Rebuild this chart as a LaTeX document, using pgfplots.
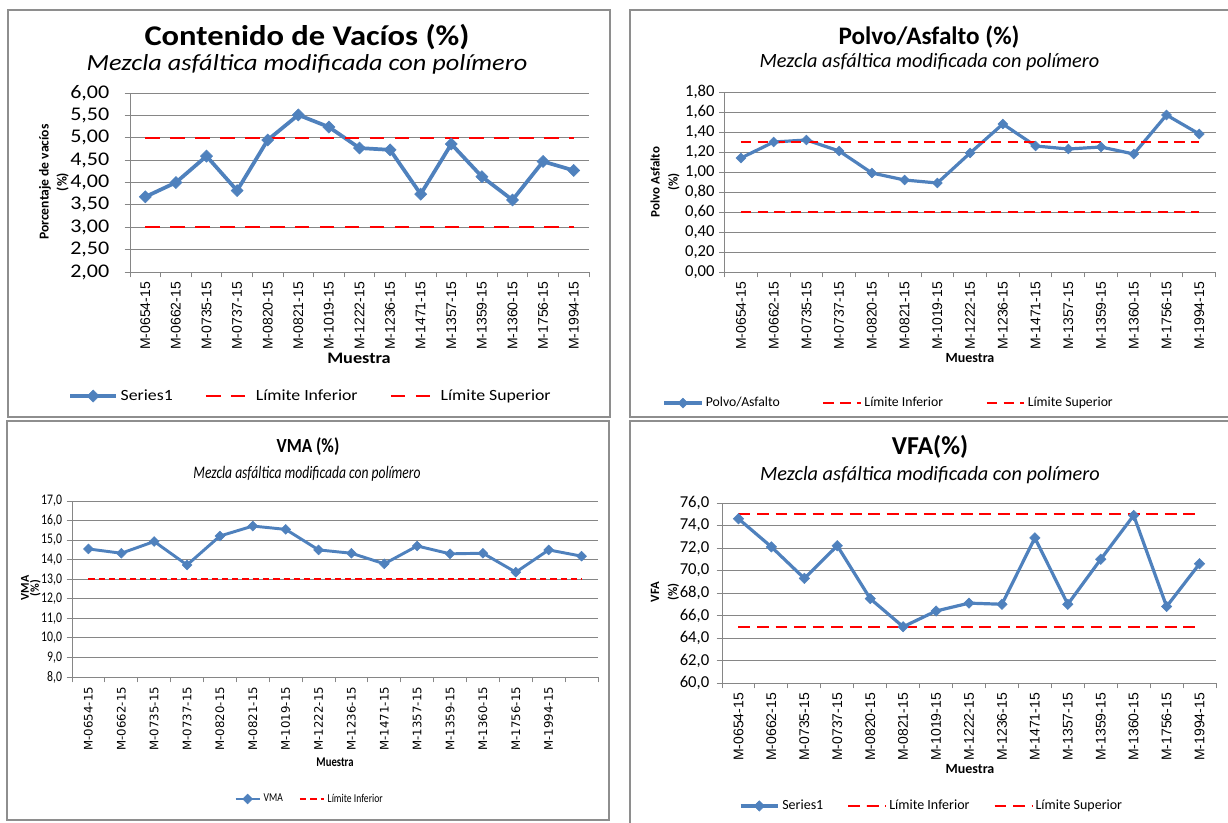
\documentclass[border=0pt]{standalone}
\usepackage{pgfplots}
\pgfplotsset{compat=1.18}
\usepackage{pgfplotstable}
\usepackage{graphicx}
\usepackage{fontspec}
\setmainfont{Carlito}
\newfontfamily\dejavu{DejaVu Sans}
\newfontfamily\arial{Liberation Sans}

\definecolor{azul}{HTML}{4F81BD}
\definecolor{rejilla}{HTML}{868686}
\definecolor{marco}{HTML}{8E8E8E}
\newcommand{\fs}[1]{\fontsize{#1}{#1}\selectfont}
\newcommand{\ancho}[1]{\scalebox{1.14}[1]{#1}}
\newcommand{\estrecho}[1]{\scalebox{0.8}[1]{#1}}

% Contenido de vacios (%)
\pgfplotstableread{
n v
1 3.68
2 4.00
3 4.59
4 3.82
5 4.95
6 5.51
7 5.24
8 4.77
9 4.73
10 3.74
11 4.86
12 4.13
13 3.61
14 4.47
15 4.27
}\vacios

% Polvo/Asfalto
\pgfplotstableread{
n v
1 1.14
2 1.30
3 1.32
4 1.21
5 0.99
6 0.92
7 0.89
8 1.19
9 1.48
10 1.26
11 1.23
12 1.25
13 1.18
14 1.57
15 1.38
}\polvo

% VMA (16 puntos, el ultimo sin etiqueta)
\pgfplotstableread{
n v
1 14.55
2 14.33
3 14.93
4 13.73
5 15.21
6 15.72
7 15.55
8 14.50
9 14.33
10 13.79
11 14.70
12 14.30
13 14.33
14 13.36
15 14.50
16 14.18
}\vma

% VFA
\pgfplotstableread{
n v
1 74.6
2 72.1
3 69.3
4 72.2
5 67.5
6 65.0
7 66.4
8 67.1
9 67.0
10 72.9
11 67.0
12 71.0
13 74.9
14 66.8
15 70.6
}\vfa

\pgfplotsset{
  hoja/.style={
    scale only axis, anchor=south west,
    axis lines*=left,
    axis line style={rejilla, line width=0.75pt},
    ymajorgrids, grid style={rejilla, line width=0.75pt},
    tick align=outside,
    every tick/.style={rejilla, line width=0.75pt},
    major tick length=4pt, minor tick length=4pt,
    every major x tick/.style={draw opacity=0},
    xmin=0.5, xmax=15.5,
    xtick={1,...,15}, minor xtick={0.5,1.5,...,15.5},
    xticklabels={M-0654-15,M-0662-15,M-0735-15,M-0737-15,M-0820-15,M-0821-15,M-1019-15,M-1222-15,M-1236-15,M-1471-15,M-1357-15,M-1359-15,M-1360-15,M-1756-15,M-1994-15},
    xticklabel style={rotate=90, anchor=east},
    clip=false,
    legend cell align=left,
    legend style={draw=none, fill=none, legend columns=3, anchor=center},
  },
  imagen/.style={legend image code/.code={\draw[mark repeat=2,mark phase=2,##1] plot coordinates {(0pt,0pt) (#1/2,0pt) (#1,0pt)};}},
  linea/.style={azul, line width=#1, mark=square*, mark options={rotate=45, solid, line width=0.4pt}},
  limite/.style={red, dash pattern=#1},
}

\begin{document}
\begin{tikzpicture}
\begin{scope}[x=0.75pt, y=-0.75pt]
\useasboundingbox (0,0) rectangle (1228,822);
% marcos
\draw[marco, line width=1pt] (8,10) rectangle (610,417);
\draw[marco, line width=1pt] (630,10) rectangle (1232,417);
\draw[marco, line width=1pt] (7,421) rectangle (609,820);
\draw[marco, line width=1pt] (630,421) rectangle (1232,830);
% textos panel 1
\node[font=\bfseries\fs{21.4}] at (307,37.5) {\ancho{Contenido de Vacíos (\%)}};
\node[font=\itshape\fs{17.3}] at (307,64) {\ancho{Mezcla asfáltica modificada con polímero}};
\node[font=\bfseries\fontsize{10.2}{13.5}\selectfont, rotate=90, align=center] at (54,182) {Porcentaje de vacíos\\(\%)};
\node[font=\bfseries\fs{12}] at (359,358) {\ancho{Muestra}};
% textos panel 2
\node[font=\bfseries\fs{18.9}] at (929,37) {Polvo/Asfalto (\%)};
\node[font=\itshape\fs{15.2}] at (929.5,62) {Mezcla asfáltica modificada con polímero};
\node[font=\bfseries\fontsize{9.7}{13.5}\selectfont, rotate=90, align=center] at (665,182) {Polvo Asfalto\\(\%)};
\node[font=\bfseries\fs{10.5}] at (970,358) {Muestra};
% textos panel 3
\node[font=\bfseries\fs{15}] at (308,447) {\scalebox{0.86}[1]{VMA (\%)}};
\node[font=\itshape\fs{13.2}] at (307,474) {\scalebox{0.77}[1]{Mezcla asfáltica modificada con polímero}};
\node[font=\bfseries\fontsize{9}{7.5}\selectfont, rotate=90, align=center] at (31,588) {VMA\\(\%)};
\node[font=\bfseries\fs{10}] at (335,762) {\estrecho{Muestra}};
% textos panel 4
\node[font=\bfseries\fs{19.4}] at (930,447) {VFA(\%)};
\node[font=\itshape\fs{15.2}] at (930,475) {Mezcla asfáltica modificada con polímero};
\node[font=\bfseries\fontsize{9.5}{13.5}\selectfont, rotate=90, align=center] at (665,592) {VFA\\(\%)};
\node[font=\bfseries\fs{10.5}] at (970,769) {Muestra};
\end{scope}

% Panel 1: contenido de vacios
\begin{axis}[hoja, at={(97.5pt,-204pt)}, width=344.25pt, height=134.25pt,
  ymin=2, ymax=6, ytick={2,2.5,3,3.5,4,4.5,5,5.5,6},
  yticklabel={\ancho{\pgfmathprintnumber[fixed,fixed zerofill,precision=2,use comma,assume math mode=true]{\tick}}},
  yticklabel style={font=\fs{14.5}, xshift=-8pt},
  xticklabel style={font=\arial\fs{10.5}},
  legend style={at={(0.394,-0.693)}, font=\fs{11.7}, /tikz/every even column/.append style={column sep=22pt}},
  imagen=34.5pt]
\addplot[linea=2.8pt, mark size=3.2pt] table[x=n, y=v] {\vacios};
\addlegendentry{\ancho{Series1}}
\addplot[limite={on 10.9pt off 7.8pt}, line width=1.75pt] coordinates {(1,3) (15,3)};
\addlegendentry{\ancho{Límite Inferior}}
\addplot[limite={on 10.9pt off 7.8pt}, line width=1.75pt] coordinates {(1,5) (15,5)};
\addlegendentry{\ancho{Límite Superior}}
\end{axis}

% Panel 2: polvo/asfalto
\begin{axis}[hoja, at={(543.45pt,-204pt)}, width=368.25pt, height=135pt,
  ymin=0, ymax=1.8, ytick={0,0.2,0.4,0.6,0.8,1,1.2,1.4,1.6,1.8},
  yticklabel={\pgfmathprintnumber[fixed,fixed zerofill,precision=2,use comma,assume math mode=true]{\tick}},
  yticklabel style={font=\fs{12.5}},
  xticklabel style={font=\arial\fs{10.5}},
  legend style={at={(0.335,-0.728)}, font=\fs{10.3}, /tikz/every even column/.append style={column sep=30pt}},
  imagen=28pt]
\addplot[linea=2.4pt, mark size=2.6pt] table[x=n, y=v] {\polvo};
\addlegendentry{Polvo/Asfalto}
\addplot[limite={on 7.8pt off 4.7pt}, line width=1.5pt] coordinates {(1,0.6) (15,0.6)};
\addlegendentry{Límite Inferior}
\addplot[limite={on 7.8pt off 4.7pt}, line width=1.5pt] coordinates {(1,1.3) (15,1.3)};
\addlegendentry{Límite Superior}
\end{axis}

% Panel 3: VMA
\begin{axis}[hoja, at={(54pt,-507.75pt)}, width=394.5pt, height=132pt,
  xmin=0.5, xmax=16.5, xtick={1,...,16}, minor xtick={0.5,1.5,...,16.5},
  xticklabels={M-0654-15,M-0662-15,M-0735-15,M-0737-15,M-0820-15,M-0821-15,M-1019-15,M-1222-15,M-1236-15,M-1471-15,M-1357-15,M-1359-15,M-1360-15,M-1756-15,M-1994-15,{}},
  ymin=8, ymax=17, ytick={8,9,10,11,12,13,14,15,16,17},
  yticklabel={\estrecho{\pgfmathprintnumber[fixed,fixed zerofill,precision=1,use comma,assume math mode=true]{\tick}}},
  yticklabel style={font=\fs{11}},
  xticklabel style={font=\dejavu\fs{8.8}},
  legend style={at={(0.452,-0.693)}, font=\fs{9}, /tikz/every even column/.append style={column sep=10pt}},
  imagen=18pt]
\addplot[linea=2.2pt, mark size=2.6pt] table[x=n, y=v] {\vma};
\addlegendentry{\estrecho{VMA}}
\addplot[limite={on 4.7pt off 3pt}, line width=1.6pt] coordinates {(1,13) (16,13)};
\addlegendentry{\estrecho{Límite Inferior}}
\end{axis}

% Panel 4: VFA
\begin{axis}[hoja, at={(541.5pt,-512.25pt)}, width=370.5pt, height=135pt,
  ymin=60, ymax=76, ytick={60,62,64,66,68,70,72,74,76},
  yticklabel={\pgfmathprintnumber[fixed,fixed zerofill,precision=1,use comma,assume math mode=true]{\tick}},
  yticklabel style={font=\fs{12.5}, xshift=-2pt},
  xticklabel style={font=\arial\fs{10.5}},
  legend style={at={(0.425,-0.683)}, font=\fs{10.5}, /tikz/every even column/.append style={column sep=16pt}},
  imagen=28pt]
\addplot[linea=2.4pt, mark size=2.75pt] table[x=n, y=v] {\vfa};
\addlegendentry{Series1}
\addplot[limite={on 8.9pt off 5pt}, line width=1.5pt] coordinates {(1,65) (15,65)};
\addlegendentry{Límite Inferior}
\addplot[limite={on 8.9pt off 5pt}, line width=1.5pt] coordinates {(1,75) (15,75)};
\addlegendentry{Límite Superior}
\end{axis}
\end{tikzpicture}
\end{document}
